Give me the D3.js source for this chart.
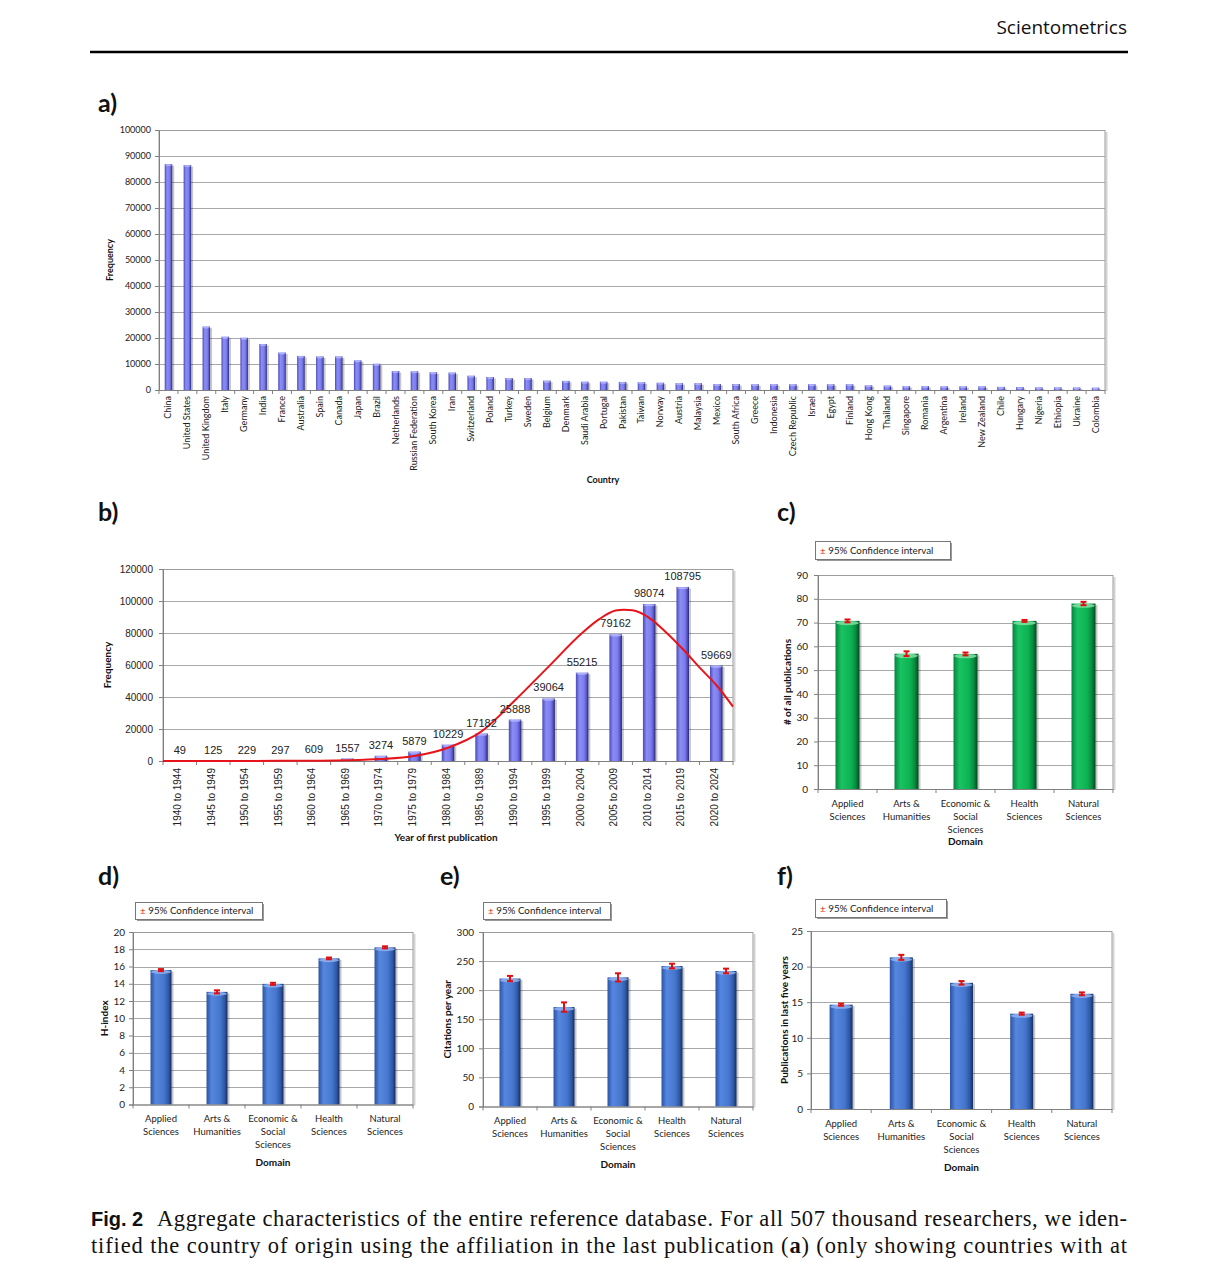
<!DOCTYPE html>
<html><head><meta charset="utf-8">
<script src="https://cdn.jsdelivr.net/npm/d3@7"></script>
<style>body{margin:0;background:#fff} svg{display:block}</style>
</head><body>
<svg id="fig" width="1218" height="1263"></svg>
<script>
// ---------------- DATA ----------------
const countries = ["China","United States","United Kingdom","Italy","Germany","India","France","Australia","Spain","Canada","Japan","Brazil","Netherlands","Russian Federation","South Korea","Iran","Switzerland","Poland","Turkey","Sweden","Belgium","Denmark","Saudi Arabia","Portugal","Pakistan","Taiwan","Norway","Austria","Malaysia","Mexico","South Africa","Greece","Indonesia","Czech Republic","Israel","Egypt","Finland","Hong Kong","Thailand","Singapore","Romania","Argentina","Ireland","New Zealand","Chile","Hungary","Nigeria","Ethiopia","Ukraine","Colombia"];
const countryFreq = [86900,86500,24400,20500,20100,17700,14400,13100,12900,12900,11400,10100,7300,7200,6800,6700,5500,5000,4600,4600,3600,3500,3200,3200,3100,2950,2800,2600,2600,2300,2300,2200,2200,2200,2200,2200,2200,1800,1700,1500,1500,1400,1400,1400,1200,1100,1000,1000,950,900];
const countryTicks = [0,10000,20000,30000,40000,50000,60000,70000,80000,90000,100000];

const yearBins = ["1940 to 1944","1945 to 1949","1950 to 1954","1955 to 1959","1960 to 1964","1965 to 1969","1970 to 1974","1975 to 1979","1980 to 1984","1985 to 1989","1990 to 1994","1995 to 1999","2000 to 2004","2005 to 2009","2010 to 2014","2015 to 2019","2020 to 2024"];
const yearFreq = [49,125,229,297,609,1557,3274,5879,10229,17182,25888,39064,55215,79162,98074,108795,59669];
const yearTicks = [0,20000,40000,60000,80000,100000,120000];
// red fitted curve (position in bin units, value)
const fitPos = [-0.5,0,1,2,3,4,5,6,7,8,9,10,11,12,12.5,13,13.25,13.5,14,14.5,15,15.5,16,16.5];
const fitVal = [0,10,20,50,100,200,450,1200,3100,8300,18500,38000,59000,80000,88500,94000,94500,94200,89500,80500,70000,58500,47500,34000];

const domains = ["Applied Sciences","Arts & Humanities","Economic & Social Sciences","Health Sciences","Natural Sciences"];
const domainLines = [["Applied","Sciences"],["Arts &","Humanities"],["Economic &","Social","Sciences"],["Health","Sciences"],["Natural","Sciences"]];

const pubShare = [70.7,56.9,56.8,70.7,78.0];
const pubShareCI = [0.6,1.0,0.6,0.4,0.7];
const pubShareTicks = [0,10,20,30,40,50,60,70,80,90];

const hIndex = [15.58,13.06,13.99,16.94,18.22];
const hIndexCI = [0.12,0.18,0.12,0.1,0.12];
const hIndexTicks = [0,2,4,6,8,10,12,14,16,18,20];

const citations = [220,171,222,241.5,233];
const citationsCI = [4.5,8,7,4,4];
const citationsTicks = [0,50,100,150,200,250,300];

const recentPubs = [14.65,21.3,17.72,13.39,16.18];
const recentPubsCI = [0.15,0.35,0.25,0.15,0.2];
const recentPubsTicks = [0,5,10,15,20,25];

// ---------------- DRAWING ----------------
const svg = d3.select("#fig");
svg.append("rect").attr("width",1218).attr("height",1263).attr("fill","#fff");
const defs = svg.append("defs");
function grad(id, stops){
  const g = defs.append("linearGradient").attr("id",id).attr("x1","0").attr("x2","1").attr("y1","0").attr("y2","0");
  stops.forEach(s=>g.append("stop").attr("offset",s[0]).attr("stop-color",s[1]));
}
grad("gViolet",[[0,"#4a4ab6"],[0.3,"#8c8cf6"],[0.65,"#7d7dee"],[0.85,"#5656c4"],[1,"#22226a"]]);
grad("gGreen",[[0,"#08843e"],[0.25,"#19c262"],[0.65,"#0db352"],[0.85,"#088a3e"],[1,"#03481f"]]);
grad("gBlue",[[0,"#2b53a4"],[0.25,"#5687e0"],[0.65,"#4676cc"],[0.85,"#2d5aa8"],[1,"#172f60"]]);

const chartFont = "Lato, 'Open Sans', 'DejaVu Sans', sans-serif";
const arialFont = "'Liberation Sans', Arial, sans-serif";

// Header
svg.append("text").attr("x",1127).attr("y",34).attr("text-anchor","end")
  .attr("font-family","'Open Sans', 'Noto Sans', sans-serif").attr("font-size",19).attr("fill","#111").text("Scientometrics");
svg.append("line").attr("x1",90).attr("x2",1128).attr("y1",52).attr("y2",52).attr("stroke","#000").attr("stroke-width",2.6);

// Panel letters
[["a)",98,112],["b)",98,521],["c)",777,521],["d)",98,885],["e)",440,885],["f)",777,885]].forEach(p=>{
  svg.append("text").attr("x",p[1]).attr("y",p[2]).attr("font-family",chartFont).attr("font-weight","bold")
    .attr("font-size",25).attr("fill","#111").text(p[0]);
});

function frame(g, L, T, R, B, ticks, y){
  g.selectAll(null).data(ticks.filter(t=>t>0)).join("line")
    .attr("x1",L).attr("x2",R).attr("y1",d=>Math.round(y(d))+0.5).attr("y2",d=>Math.round(y(d))+0.5)
    .attr("stroke","#a9a9a9").attr("stroke-width",1);
  g.append("line").attr("x1",R+1.5).attr("x2",R+1.5).attr("y1",T+2).attr("y2",B+1).attr("stroke","#d4d4d4").attr("stroke-width",2);
  g.append("rect").attr("x",L).attr("y",Math.round(T)+0.5).attr("width",R-L).attr("height",B-T)
    .attr("fill","none").attr("stroke","#9c9c9c").attr("stroke-width",1);
}

function drawBar(g, x, yTop, w, yBase, gradId, capColor, shadow){
  const h = yBase - yTop;
  if (h <= 0) return;
  if (shadow) g.append("rect").attr("x",x+2).attr("y",yTop+1.5).attr("width",w).attr("height",h-1.5)
      .attr("fill","#000").attr("opacity",0.22);
  g.append("rect").attr("x",x).attr("y",yTop).attr("width",w).attr("height",h).attr("fill",`url(#${gradId})`);
  const ch = Math.min(h, Math.max(2, w*0.18));
  g.append("ellipse").attr("cx",x+w/2).attr("cy",yTop+ch/2).attr("rx",w/2-0.5).attr("ry",ch/2)
    .attr("fill",capColor).attr("opacity",0.85);
}

// ---------- Panel a ----------
(function(){
  const L=159,T=130,R=1105,B=390;
  const g = svg.append("g");
  const x = d3.scaleBand().domain(countries).range([L,R]).padding(0);
  const y = d3.scaleLinear().domain([0,100000]).range([B,T]);
  frame(g,L,T,R,B,countryTicks,y);
  const bw = 7.5;
  countries.forEach((c,i)=>{
    drawBar(g, x(c)+(x.bandwidth()-bw)/2, y(countryFreq[i]), bw, B, "gViolet", "#b4b4ff", true);
  });
  const ax = g.append("g").attr("transform",`translate(${L},0)`)
    .call(d3.axisLeft(y).tickValues(countryTicks).tickSize(4).tickPadding(4).tickFormat(d3.format("d")));
  ax.select(".domain").attr("stroke","#808080");
  ax.selectAll(".tick line").attr("stroke","#808080");
  ax.selectAll("text").attr("font-family",chartFont).attr("font-size",9).attr("fill","#222");
  g.append("line").attr("x1",L).attr("x2",R).attr("y1",B+0.5).attr("y2",B+0.5).attr("stroke","#808080");
  g.selectAll(null).data(d3.range(countries.length+1)).join("line")
    .attr("x1",i=>L+i*x.step()).attr("x2",i=>L+i*x.step()).attr("y1",B).attr("y2",B+4).attr("stroke","#808080");
  g.selectAll(null).data(countries).join("text")
    .attr("transform",d=>`translate(${x(d)+x.bandwidth()/2+3},${B+6}) rotate(-90)`)
    .attr("text-anchor","end").attr("font-family",chartFont).attr("font-size",9).attr("fill","#222").text(d=>d);
  svg.append("text").attr("transform","translate(113,260) rotate(-90)").attr("text-anchor","middle")
    .attr("font-family",chartFont).attr("font-weight","bold").attr("font-size",9).attr("fill","#111").text("Frequency");
  svg.append("text").attr("x",603).attr("y",483).attr("text-anchor","middle")
    .attr("font-family",chartFont).attr("font-weight","bold").attr("font-size",9).attr("fill","#111").text("Country");
})();

// ---------- Panel b ----------
(function(){
  const L=163,T=569,R=733,B=761;
  const g = svg.append("g");
  const x = d3.scaleBand().domain(yearBins).range([L,R]).padding(0);
  const y = d3.scaleLinear().domain([0,120000]).range([B,T]);
  frame(g,L,T,R,B,yearTicks,y);
  const bw = 12.5;
  yearBins.forEach((c,i)=>{
    drawBar(g, x(c)+(x.bandwidth()-bw)/2, y(yearFreq[i]), bw, B, "gViolet", "#b4b4ff", true);
  });
  const ax = g.append("g").attr("transform",`translate(${L},0)`)
    .call(d3.axisLeft(y).tickValues(yearTicks).tickSize(4).tickPadding(6).tickFormat(d3.format("d")));
  ax.select(".domain").attr("stroke","#808080");
  ax.selectAll(".tick line").attr("stroke","#808080");
  ax.selectAll("text").attr("font-family",arialFont).attr("font-size",10).attr("fill","#222");
  g.append("line").attr("x1",L).attr("x2",R).attr("y1",B+0.5).attr("y2",B+0.5).attr("stroke","#808080");
  g.selectAll(null).data(d3.range(yearBins.length+1)).join("line")
    .attr("x1",i=>L+i*x.step()).attr("x2",i=>L+i*x.step()).attr("y1",B).attr("y2",B+4).attr("stroke","#808080");
  g.selectAll(null).data(yearBins).join("text")
    .attr("transform",d=>`translate(${x(d)+x.bandwidth()/2-2},${B+7}) rotate(-90)`)
    .attr("text-anchor","end").attr("dominant-baseline","central").attr("font-family",arialFont).attr("font-size",10).attr("fill","#222").text(d=>d);
  const xf = d3.scaleLinear().domain([-0.5, yearBins.length-0.5]).range([L,R]);
  const line = d3.line().x(d=>xf(d[0])).y(d=>y(d[1])).curve(d3.curveMonotoneX);
  g.append("path").datum(fitPos.map((p,i)=>[p,fitVal[i]])).attr("d",line)
    .attr("fill","none").attr("stroke","#e8141b").attr("stroke-width",2);
  g.selectAll(null).data(yearBins).join("text")
    .attr("x",d=>x(d)+x.bandwidth()/2).attr("y",(d,i)=>y(yearFreq[i])-7)
    .attr("text-anchor","middle").attr("font-family",arialFont).attr("font-size",11).attr("fill","#222")
    .text((d,i)=>yearFreq[i]);
  svg.append("text").attr("transform","translate(111,665) rotate(-90)").attr("text-anchor","middle")
    .attr("font-family",chartFont).attr("font-weight","bold").attr("font-size",10).attr("fill","#111").text("Frequency");
  svg.append("text").attr("x",446).attr("y",841).attr("text-anchor","middle")
    .attr("font-family",chartFont).attr("font-weight","bold").attr("font-size",10).attr("fill","#111").text("Year of first publication");
})();

// ---------- Domain panels c–f ----------
function domainPanel(cfg){
  const {L,T,R,B,vals,ci,ticks,gradId,cap,yTitle,yTitleX,xTitleY,legend,bw,pad} = cfg;
  const g = svg.append("g");
  const x = d3.scaleBand().domain(domains).range([L,R]).padding(0);
  const y = d3.scaleLinear().domain([0,ticks[ticks.length-1]]).range([B,T]);
  frame(g,L,T,R,B,ticks,y);
  domains.forEach((c,i)=>{
    drawBar(g, x(c)+(x.bandwidth()-bw)/2, y(vals[i]), bw, B, gradId, cap, true);
  });
  domains.forEach((c,i)=>{
    const cx = x(c)+x.bandwidth()/2;
    const y1 = y(vals[i]+ci[i]), y0 = y(vals[i]-ci[i]);
    const eg = g.append("g").attr("stroke","#e01010").attr("stroke-width",2);
    eg.append("line").attr("x1",cx).attr("x2",cx).attr("y1",y1).attr("y2",y0);
    eg.append("line").attr("x1",cx-3).attr("x2",cx+3).attr("y1",y1).attr("y2",y1);
    eg.append("line").attr("x1",cx-3).attr("x2",cx+3).attr("y1",y0).attr("y2",y0);
  });
  const ax = g.append("g").attr("transform",`translate(${L},0)`)
    .call(d3.axisLeft(y).tickValues(ticks).tickSize(4).tickPadding(pad).tickFormat(d3.format("d")));
  ax.select(".domain").attr("stroke","#808080");
  ax.selectAll(".tick line").attr("stroke","#808080");
  ax.selectAll("text").attr("font-family",chartFont).attr("font-size",10).attr("fill","#222");
  g.append("line").attr("x1",L).attr("x2",R).attr("y1",B+0.5).attr("y2",B+0.5).attr("stroke","#808080");
  g.selectAll(null).data(d3.range(domains.length+1)).join("line")
    .attr("x1",i=>L+i*x.step()).attr("x2",i=>L+i*x.step()).attr("y1",B).attr("y2",B+4).attr("stroke","#808080");
  domains.forEach((c,i)=>{
    const t = g.append("text").attr("x",x(c)+x.bandwidth()/2).attr("y",B+17.5).attr("text-anchor","middle")
      .attr("font-family",chartFont).attr("font-size",9.5).attr("fill","#222");
    domainLines[i].forEach((ln,j)=>t.append("tspan").attr("x",x(c)+x.bandwidth()/2).attr("dy",j===0?0:13).text(ln));
  });
  svg.append("text").attr("x",(L+R)/2).attr("y",xTitleY).attr("text-anchor","middle")
    .attr("font-family",chartFont).attr("font-weight","bold").attr("font-size",10).attr("fill","#111").text("Domain");
  svg.append("text").attr("transform",`translate(${yTitleX},${(T+B)/2}) rotate(-90)`).attr("text-anchor","middle")
    .attr("dominant-baseline","central")
    .attr("font-family",chartFont).attr("font-weight","bold").attr("font-size",10).attr("fill","#111").text(yTitle);
  const lg = svg.append("g");
  lg.append("rect").attr("x",legend[0]+2).attr("y",legend[1]+2).attr("width",legend[2]).attr("height",legend[3]).attr("fill","#9a9a9a");
  lg.append("rect").attr("x",legend[0]+0.5).attr("y",legend[1]+0.5).attr("width",legend[2]).attr("height",legend[3])
    .attr("fill","#fff").attr("stroke","#777");
  const lt = lg.append("text").attr("x",legend[0]+5).attr("y",legend[1]+legend[3]/2+3.5)
    .attr("font-family",chartFont).attr("font-size",9.8).attr("fill","#222");
  lt.append("tspan").attr("fill","#e01010").text("±");
  lt.append("tspan").text(" 95% Confidence interval");
}

domainPanel({L:818,T:575,R:1113,B:789,vals:pubShare,ci:pubShareCI,ticks:pubShareTicks,gradId:"gGreen",cap:"#7fe0a4",
  yTitle:"# of all publications",yTitleX:787,xTitleY:845,legend:[815,541,135,18],bw:24,pad:6});
domainPanel({L:133,T:932,R:413,B:1104.5,vals:hIndex,ci:hIndexCI,ticks:hIndexTicks,gradId:"gBlue",cap:"#8fb2f0",
  yTitle:"H-index",yTitleX:104,xTitleY:1166,legend:[135,902,127,17],bw:21,pad:4});
domainPanel({L:483,T:932,R:753,B:1106.5,vals:citations,ci:citationsCI,ticks:citationsTicks,gradId:"gBlue",cap:"#8fb2f0",
  yTitle:"Citations per year",yTitleX:447,xTitleY:1168,legend:[483,902,127,17],bw:21,pad:5});
domainPanel({L:811,T:931,R:1112,B:1109,vals:recentPubs,ci:recentPubsCI,ticks:recentPubsTicks,gradId:"gBlue",cap:"#8fb2f0",
  yTitle:"Publications in last five years",yTitleX:784,xTitleY:1171,legend:[815,899,131,18],bw:23,pad:4});

// ---------- Caption ----------
const capFont = "'Liberation Serif', 'Times New Roman', serif";
svg.append("text").attr("x",91).attr("y",1226).attr("font-family","'Liberation Sans Narrow', 'Liberation Sans', sans-serif")
  .attr("font-weight","bold").attr("font-size",20).attr("fill","#111").text("Fig. 2");
function justified(parts, x0, x1, yb){
  const t = svg.append("text").attr("x",x0).attr("y",yb).attr("font-family",capFont).attr("font-size",22.5).attr("fill","#111");
  parts.forEach(p=>{ const s=t.append("tspan").text(p[0]); if(p[1]) s.attr("font-weight","bold"); });
  t.attr("textLength",x1-x0).attr("lengthAdjust","spacing");
}
justified([["Aggregate characteristics of the entire reference database. For all 507 thousand researchers, we iden-"]],157,1127,1226);
justified([["tified the country of origin using the affiliation in the last publication ("],["a",true],[") (only showing countries with at"]],91,1127,1253);
</script>
</body></html>
